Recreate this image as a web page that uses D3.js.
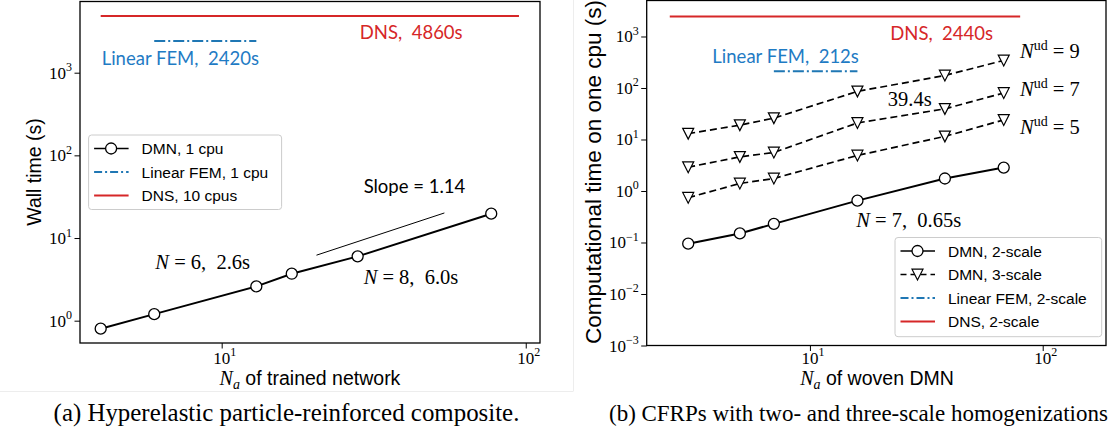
<!DOCTYPE html>
<html>
<head>
<meta charset="utf-8">
<script src="https://cdn.jsdelivr.net/npm/d3@7"></script>
<style>
  body { margin: 0; background: #fff; }
  svg text { white-space: pre; }
</style>
</head>
<body>
<svg id="chart" width="1110" height="434"></svg>
<script>
// ---- panel (a): hyperelastic particle-reinforced composite ----
const naA = [4, 6, 13, 17, 28, 77];
const timeA = [0.8, 1.2, 2.6, 3.7, 6.0, 19.7];
const dnsSpanA = [4, 95];
const dnsTimeA = 4860;
const femSpanA = [6, 13];
const femTimeA = 2420;
const slopeA = [[20.5, 6.2], [54, 20.1]];
const legendA = ["DMN, 1 cpu", "Linear FEM, 1 cpu", "DNS, 10 cpus"];

// ---- panel (b): CFRPs, two- and three-scale ----
const naB = [3, 5, 7, 16, 38, 68];
const dmn2B = [0.095, 0.15, 0.23, 0.65, 1.75, 2.85];
const nudLevels = [5, 7, 9];
const dmn3B = [
  [0.74, 1.4, 1.75, 4.9, 11.5, 24],
  [2.9, 4.6, 5.6, 21, 39.4, 80],
  [13, 19, 26, 86, 175, 343]
];
const dnsSpanB = [2.5, 80];
const dnsTimeB = 2440;
const femSpanB = [7, 16];
const femTimeB = 212;
const legendB = ["DMN, 2-scale", "DMN, 3-scale", "Linear FEM, 2-scale", "DNS, 2-scale"];

const RED = "#d62728", BLUE = "#1f77b4", BLUE_TXT = "#1f7bc4";
const SANS = "'Liberation Sans', Arial, sans-serif";
const SERIF = "'Liberation Serif', 'DejaVu Serif', serif";
const NOTE = "Lato, 'Open Sans', sans-serif";

const svg = d3.select("#chart");

// faint subfigure borders from the page
svg.append("line").attr("x1", 0).attr("x2", 573).attr("y1", 391.5).attr("y2", 391.5)
  .attr("stroke", "#ededed");
svg.append("line").attr("x1", 573.5).attr("x2", 573.5).attr("y1", 0).attr("y2", 391.5)
  .attr("stroke", "#ededed");

function supLabel(text, exp) {
  text.append("tspan").text("10");
  text.append("tspan").attr("dy", -7.5).attr("font-size", 12)
    .text(exp < 0 ? "\u2212" + (-exp) : exp);
}

function drawAxes(g, x, y, xMajors, yMajors) {
  const [x0, x1] = x.range(), [y1, y0] = y.range();
  const minorsOf = sc => sc.ticks().filter(v => {
    const l = Math.log10(v);
    return Math.abs(l - Math.round(l)) > 1e-6;
  });
  const xAx = g.append("g").attr("transform", `translate(0,${y1})`);
  xAx.call(d3.axisBottom(x).tickValues(minorsOf(x)).tickSize(3).tickFormat(""));
  xAx.call(d3.axisBottom(x).tickValues(xMajors).tickSize(5.5).tickFormat(""));
  const yAx = g.append("g").attr("transform", `translate(${x0},0)`);
  yAx.call(d3.axisLeft(y).tickValues(minorsOf(y)).tickSize(3).tickFormat(""));
  yAx.call(d3.axisLeft(y).tickValues(yMajors).tickSize(5.5).tickFormat(""));
  g.selectAll(".domain").remove();
  g.selectAll(".tick line").attr("stroke", "#000").attr("stroke-width", 1);

  xMajors.forEach(v => {
    const t = g.append("text").attr("x", x(v) + 3).attr("y", 363.5)
      .attr("text-anchor", "middle").attr("font-family", SERIF).attr("font-size", 17);
    supLabel(t, Math.round(Math.log10(v)));
  });
  yMajors.forEach(v => {
    const t = g.append("text").attr("x", x0 - 8).attr("y", y(v) + 6)
      .attr("text-anchor", "end").attr("font-family", SERIF).attr("font-size", 17);
    supLabel(t, Math.round(Math.log10(v)));
  });

  g.append("rect").attr("x", x0).attr("y", y0).attr("width", x1 - x0).attr("height", y1 - y0)
    .attr("fill", "none").attr("stroke", "#000").attr("stroke-width", 1.3);
}

function circleMark(sel) {
  sel.append("circle").attr("r", 5.5).attr("fill", "#fff")
    .attr("stroke", "#000").attr("stroke-width", 1.3);
}
function triMark(sel) {
  sel.append("path").attr("d", "M-5.5,-5.3L5.5,-5.3L0,5.5Z").attr("fill", "#fff")
    .attr("stroke", "#000").attr("stroke-width", 1.2);
}

function note(g, x, y, text, color, anchor) {
  return g.append("text").attr("x", x).attr("y", y).attr("fill", color)
    .attr("font-family", NOTE).attr("font-size", 18.5)
    .attr("text-anchor", anchor || "start").text(text);
}

function mathNote(g, x, y, parts) {
  const t = g.append("text").attr("x", x).attr("y", y)
    .attr("font-family", SERIF).attr("font-size", 20.5).attr("fill", "#000");
  parts.forEach(p => {
    const s = t.append("tspan").text(p.t);
    if (p.it) s.attr("font-style", "italic");
    if (p.dy) s.attr("dy", p.dy);
    if (p.fs) s.attr("font-size", p.fs);
  });
  return t;
}

function legend(g, x0, y0, w, h, rows) {
  g.append("rect").attr("x", x0).attr("y", y0).attr("width", w).attr("height", h)
    .attr("rx", 3).attr("fill", "#fff").attr("fill-opacity", 0.8)
    .attr("stroke", "#cccccc").attr("stroke-width", 1);
  rows.forEach((r, i) => {
    const cy = y0 + 13.5 + i * 23.5;
    g.append("line").attr("x1", x0 + 5.5).attr("x2", x0 + 40).attr("y1", cy).attr("y2", cy)
      .attr("stroke", r.color).attr("stroke-width", r.lw).attr("stroke-dasharray", r.dash || null);
    if (r.mark) r.mark(g.append("g").attr("transform", `translate(${x0 + 22.5},${cy})`));
    g.append("text").attr("x", x0 + 53).attr("y", cy + 5.5)
      .attr("font-family", SANS).attr("font-size", 15.5).text(r.label);
  });
}

function xLabel(g, cx, rest) {
  const xl = g.append("text").attr("x", cx).attr("y", 385).attr("text-anchor", "middle")
    .attr("font-family", SANS).attr("font-size", 19.5);
  xl.append("tspan").attr("font-family", SERIF).attr("font-style", "italic").attr("font-size", 20).text("N");
  xl.append("tspan").attr("font-family", SERIF).attr("font-style", "italic").attr("font-size", 14)
    .attr("dy", 4).text("a");
  xl.append("tspan").attr("dy", -4).text(rest);
}

// ================= panel (a) =================
{
  const g = svg.append("g");
  const x = d3.scaleLog().domain([3.42, 111.4]).range([80, 540]);
  const y = d3.scaleLog().domain([0.537, 7265]).range([343, 1.5]);
  drawAxes(g, x, y, [10, 100], [1, 10, 100, 1000]);

  g.append("line").attr("x1", x(dnsSpanA[0])).attr("x2", x(dnsSpanA[1]))
    .attr("y1", y(dnsTimeA)).attr("y2", y(dnsTimeA)).attr("stroke", RED).attr("stroke-width", 2);
  g.append("line").attr("x1", x(femSpanA[0])).attr("x2", x(femSpanA[1]))
    .attr("y1", y(femTimeA)).attr("y2", y(femTimeA)).attr("stroke", BLUE).attr("stroke-width", 2)
    .attr("stroke-dasharray", "11,3,2,3");

  g.append("line").attr("x1", x(slopeA[0][0])).attr("y1", y(slopeA[0][1]))
    .attr("x2", x(slopeA[1][0])).attr("y2", y(slopeA[1][1]))
    .attr("stroke", "#000").attr("stroke-width", 1);

  const line = d3.line().x(d => x(d[0])).y(d => y(d[1]));
  const pts = naA.map((v, i) => [v, timeA[i]]);
  g.append("path").attr("d", line(pts)).attr("fill", "none")
    .attr("stroke", "#000").attr("stroke-width", 2);
  pts.forEach(p => circleMark(g.append("g").attr("transform", `translate(${x(p[0])},${y(p[1])})`)));

  note(g, x(42), y(2550), "DNS,  4860s", RED, "middle");
  note(g, x(4.03), y(1256), "Linear FEM,  2420s", BLUE_TXT);
  note(g, x(29.3), y(34.8), "Slope = 1.14", "#000");
  mathNote(g, x(6.05), y(4.19), [{t: "N", it: true}, {t: " = 6,  2.6s"}]);
  mathNote(g, x(29.3), y(2.74), [{t: "N", it: true}, {t: " = 8,  6.0s"}]);

  legend(g, 88.6, 135, 193, 74.5, [
    {label: legendA[0], color: "#000", lw: 1.5, mark: circleMark},
    {label: legendA[1], color: BLUE, lw: 1.8, dash: "8,3,2,3"},
    {label: legendA[2], color: RED, lw: 1.8}
  ]);

  g.append("text").attr("transform", "translate(34,172) rotate(-90)").attr("dy", "0.35em")
    .attr("text-anchor", "middle").attr("font-family", SANS).attr("font-size", 19.5)
    .text("Wall time (s)");
  xLabel(g, 310, " of trained network");
}

// ================= panel (b) =================
{
  const g = svg.append("g");
  const x = d3.scaleLog().domain([1.99, 187]).range([646.7, 1106]);
  const y = d3.scaleLog().domain([1e-3, 5e3]).range([345.5, 0.5]);
  drawAxes(g, x, y, [10, 100], [1e-3, 1e-2, 1e-1, 1, 10, 100, 1000]);

  g.append("line").attr("x1", x(dnsSpanB[0])).attr("x2", x(dnsSpanB[1]))
    .attr("y1", y(dnsTimeB)).attr("y2", y(dnsTimeB)).attr("stroke", RED).attr("stroke-width", 2);
  g.append("line").attr("x1", x(femSpanB[0])).attr("x2", x(femSpanB[1]))
    .attr("y1", y(femTimeB)).attr("y2", y(femTimeB)).attr("stroke", BLUE).attr("stroke-width", 2)
    .attr("stroke-dasharray", "11,3,2,3");

  const line = d3.line().x(d => x(d[0])).y(d => y(d[1]));
  dmn3B.forEach(series => {
    const pts = naB.map((v, i) => [v, series[i]]);
    g.append("path").attr("d", line(pts)).attr("fill", "none")
      .attr("stroke", "#000").attr("stroke-width", 1.7).attr("stroke-dasharray", "7,4");
    pts.forEach(p => triMark(g.append("g").attr("transform", `translate(${x(p[0])},${y(p[1])})`)));
  });
  const pts2 = naB.map((v, i) => [v, dmn2B[i]]);
  g.append("path").attr("d", line(pts2)).attr("fill", "none")
    .attr("stroke", "#000").attr("stroke-width", 2);
  pts2.forEach(p => circleMark(g.append("g").attr("transform", `translate(${x(p[0])},${y(p[1])})`)));

  note(g, x(36.8), y(863), "DNS,  2440s", RED, "middle");
  note(g, x(3.81), y(304), "Linear FEM,  212s", BLUE_TXT);
  mathNote(g, x(21.6), y(44), [{t: "39.4s"}]);
  const nudY = [13.0, 69.7, 386];
  nudLevels.forEach((n, i) => {
    mathNote(g, x(79.9), y(nudY[i]), [
      {t: "N", it: true}, {t: "ud", dy: -8, fs: 14}, {t: " = " + n, dy: 8}
    ]);
  });
  mathNote(g, x(15.8), y(0.2), [{t: "N", it: true}, {t: " = 7,  0.65s"}]);

  legend(g, 895, 237.5, 206.7, 99.2, [
    {label: legendB[0], color: "#000", lw: 1.5, mark: circleMark},
    {label: legendB[1], color: "#000", lw: 1.5, dash: "6,4", mark: triMark},
    {label: legendB[2], color: BLUE, lw: 1.8, dash: "8,3,2,3"},
    {label: legendB[3], color: RED, lw: 1.8}
  ]);

  g.append("text").attr("transform", "translate(593,172) rotate(-90)").attr("dy", "0.35em")
    .attr("text-anchor", "middle").attr("font-family", SANS).attr("font-size", 22.5)
    .text("Computational time on one cpu (s)");
  xLabel(g, 877, " of woven DMN");
}

// ---- captions, sized to the widths they take in the figure ----
function caption(x, text, width) {
  const t = svg.append("text").attr("x", x).attr("y", 421)
    .attr("font-family", SERIF).attr("font-size", 20).text(text);
  t.attr("font-size", 20 * width / t.node().getComputedTextLength());
}
caption(53.6, "(a) Hyperelastic particle-reinforced composite.", 466);
caption(609, "(b) CFRPs with two- and three-scale homogenizations", 499);
</script>
</body>
</html>
